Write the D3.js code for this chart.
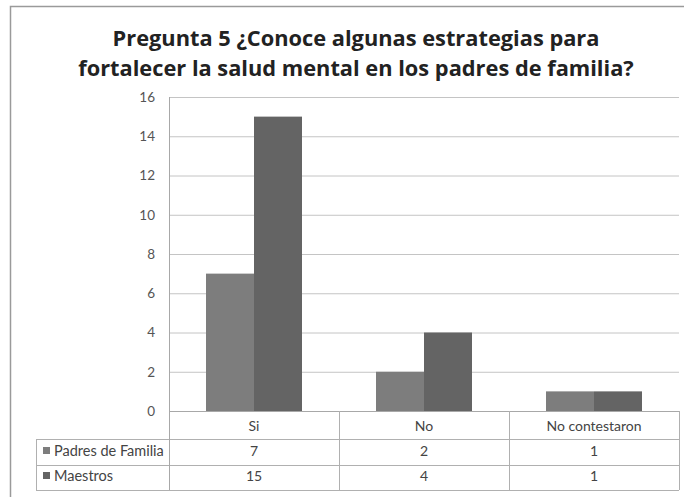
<!DOCTYPE html>
<html>
<head>
  <meta charset="utf-8">
  <title></title>
  <style>
    body { margin: 0; background: #fff; }
    svg { font-family: Lato, "Open Sans", sans-serif; }
  </style>
</head>
<body>
  <script src="https://cdn.jsdelivr.net/npm/d3@7"></script>
  <script type="text/javascript">
    var categories = ["Si", "No", "No contestaron"];
    var seriesNames = ["Padres de Familia", "Maestros"];
    var padres = [7, 2, 1];
    var maestros = [15, 4, 1];
    var yTicks = [0, 2, 4, 6, 8, 10, 12, 14, 16];
    var colors = ["#7d7d7d", "#646464"];

    var width = 684, height = 497;
    var plotL = 169, plotR = 679, plotT = 97, plotB = 411;

    var svg = d3.select("body").append("svg")
      .attr("width", width)
      .attr("height", height);

    // chart frame
    svg.append("path")
      .attr("d", "M10.5," + height + "V6.5H" + width)
      .attr("fill", "none")
      .attr("stroke", "#9a9a9a")
      .attr("stroke-width", 1.5);

    // title
    var title = svg.append("text")
      .attr("text-anchor", "middle")
      .style("font-family", "'Open Sans', sans-serif")
      .attr("font-weight", "bold")
      .attr("font-size", 19)
      .attr("fill", "#222");
    title.append("tspan").attr("x", 356).attr("y", 46)
      .text("Pregunta 5 ¿Conoce algunas estrategias para");
    var line2 = title.append("tspan").attr("x", 356).attr("y", 76)
      .text("fortalecer la salud mental en los padres de familia?");
    // fit title roughly to the width seen in the reference
    var w2 = line2.node().getComputedTextLength();
    title.attr("font-size", 19 * 556 / w2);

    var x0 = d3.scaleBand().domain(categories).range([plotL, plotR]);
    var x1 = d3.scaleBand().domain(seriesNames).range([37, 133]);
    var y = d3.scaleLinear().domain([0, 16]).range([plotB, plotT]);

    // gridlines + labels
    var yAxis = svg.append("g")
      .attr("transform", "translate(" + plotL + ",0)")
      .call(d3.axisLeft(y).tickValues(yTicks).tickSize(-(plotR - plotL)).tickPadding(14));
    yAxis.attr("font-family", null);
    yAxis.select(".domain").remove();
    yAxis.selectAll("line").attr("stroke", "#c4c4c4");
    yAxis.selectAll("text")
      .attr("font-size", 13.5)
      .attr("fill", "#555");

    var data = categories.map(function(c, i) {
      return { cat: c, values: [padres[i], maestros[i]] };
    });

    var groups = svg.selectAll("g.cat").data(data).enter().append("g")
      .attr("class", "cat")
      .attr("transform", function(d) { return "translate(" + x0(d.cat) + ",0)"; });

    groups.selectAll("rect").data(function(d) {
      return d.values.map(function(v, j) { return { s: seriesNames[j], v: v, j: j }; });
    }).enter().append("rect")
      .attr("x", function(d) { return x1(d.s); })
      .attr("y", function(d) { return y(d.v); })
      .attr("width", x1.bandwidth())
      .attr("height", function(d) { return y(0) - y(d.v); })
      .attr("fill", function(d) { return colors[d.j]; });

    // data table
    var rowTop = [411, 439, 465];
    var rowBottom = 490;
    var tableLeft = 36;
    var lc = "#b0b0b0";
    var t = svg.append("g").attr("fill", "none").attr("stroke", lc);

    t.append("line").attr("x1", plotL).attr("x2", plotR).attr("y1", plotB + 0.5).attr("y2", plotB + 0.5).attr("stroke", "#a8a8a8");
    [rowTop[1], rowTop[2], rowBottom].forEach(function(yy) {
      t.append("line").attr("x1", tableLeft).attr("x2", plotR).attr("y1", yy + 0.5).attr("y2", yy + 0.5);
    });
    t.append("line").attr("x1", tableLeft + 0.5).attr("x2", tableLeft + 0.5).attr("y1", rowTop[1]).attr("y2", rowBottom);
    t.append("line").attr("x1", plotL + 0.5).attr("x2", plotL + 0.5).attr("y1", plotT).attr("y2", rowBottom).attr("stroke", "#a8a8a8");
    categories.forEach(function(c) {
      var xx = Math.round(x0(c) + x0.bandwidth()) + 0.5;
      t.append("line").attr("x1", xx).attr("x2", xx).attr("y1", plotB).attr("y2", rowBottom);
    });

    svg.selectAll("text.cat").data(categories).enter().append("text")
      .attr("class", "cat")
      .attr("x", function(d) { return x0(d) + x0.bandwidth() / 2; })
      .attr("y", 431)
      .attr("text-anchor", "middle")
      .attr("font-size", 14)
      .attr("fill", "#444")
      .text(function(d) { return d; });

    [padres, maestros].forEach(function(vals, j) {
      var cy = (j === 0 ? 456 : 481);
      svg.append("rect")
        .attr("x", 43).attr("y", cy - 9)
        .attr("width", 7).attr("height", 7)
        .attr("fill", colors[j]);
      svg.append("text")
        .attr("x", 54).attr("y", cy)
        .attr("font-size", 14.5)
        .attr("fill", "#444")
        .text(seriesNames[j]);
      svg.selectAll(null).data(vals).enter().append("text")
        .attr("x", function(d, i) { return x0(categories[i]) + x0.bandwidth() / 2; })
        .attr("y", cy)
        .attr("text-anchor", "middle")
        .attr("font-size", 14)
        .attr("fill", "#444")
        .text(function(d) { return d; });
    });
  </script>
</body>
</html>
